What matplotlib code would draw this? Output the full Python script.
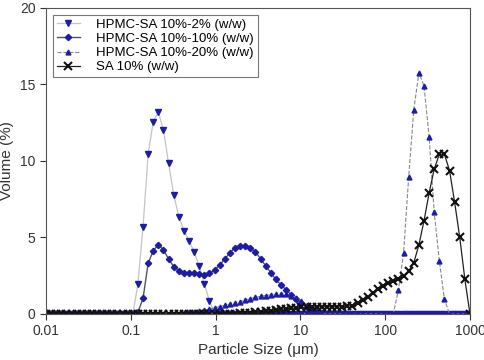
import matplotlib
matplotlib.use("Agg")
import matplotlib.pyplot as plt
import numpy as np

plt.rcParams['font.family'] = ['Liberation Sans', 'DejaVu Sans']

# particle size bins (um), 84 log-spaced classes from 0.01 to 1000
size = np.logspace(-2, 3, 84)

# volume (%) per bin
hpmc_2 = [0] * 18 + [1.96, 5.7, 10.46, 12.57, 13.2, 12.0, 9.85, 7.8, 6.36, 5.45,
                     4.77, 4.07, 3.1, 1.96, 0.85, 0.05] + [0] * 50

hpmc_10 = [0] * 18 + [0.1, 1.02, 3.3, 4.14, 4.53, 4.18, 3.59, 3.09, 2.83, 2.7,
                      2.7, 2.66, 2.61, 2.55, 2.66, 2.87, 3.2, 3.59, 4.0, 4.33,
                      4.46, 4.46, 4.3, 4.07, 3.6, 3.15, 2.7, 2.25, 1.9, 1.57,
                      1.25, 0.95, 0.7, 0.48, 0.3, 0.15, 0.05] + [0] * 29

hpmc_20 = [0] * 26 + [0.02, 0.05, 0.1, 0.15, 0.2, 0.25, 0.32, 0.4, 0.48, 0.56,
                      0.64, 0.72, 0.8, 0.9, 1.0, 1.08, 1.15, 1.2, 1.25, 1.28,
                      1.3, 1.28, 1.2, 1.05, 0.85, 0.6, 0.38, 0.18, 0.06] \
    + [0] * 14 + [1.57, 3.97, 8.93, 13.33, 15.77, 14.9, 11.59, 6.64, 3.49, 0.96] + [0] * 5

sa_10 = [0] * 38 + [0.03, 0.05, 0.08, 0.11, 0.15, 0.18, 0.22, 0.26, 0.3, 0.33,
                    0.36, 0.39, 0.42, 0.44, 0.45, 0.46, 0.47, 0.47, 0.47, 0.46,
                    0.46, 0.5, 0.55, 0.7, 0.88, 1.1, 1.35, 1.6, 1.85, 2.0,
                    2.12, 2.25, 2.45, 2.8, 3.35, 4.5, 6.08, 7.9, 9.46, 10.44,
                    10.44, 9.37, 7.3, 5.0, 2.27, 0.0]

blue = '#1c1ca8'

fig = plt.figure(figsize=(4.84, 3.6), dpi=100)
ax = fig.add_axes([0.095, 0.128, 0.876, 0.85])

ax.plot(size, hpmc_2, color='#c4c4c4', lw=0.9, marker='v', ms=4,
        mfc=blue, mec=blue, label='HPMC-SA 10%-2% (w/w)')
ax.plot(size, hpmc_10, color='#555555', lw=1.0, marker='D', ms=3.2,
        mfc=blue, mec=blue, label='HPMC-SA 10%-10% (w/w)')
ax.plot(size, hpmc_20, color='#888888', lw=0.8, ls='--', marker='^', ms=3.5,
        mfc=blue, mec=blue, label='HPMC-SA 10%-20% (w/w)')
ax.plot(size, sa_10, color='#222222', lw=0.9, marker='x', ms=5.5, mew=1.5,
        mec='#111111', label='SA 10% (w/w)')

ax.set_xscale('log')
ax.set_xlim(0.01, 1000)
ax.set_ylim(0, 20)
ax.set_xticks([0.01, 0.1, 1, 10, 100, 1000])
ax.set_xticklabels(['0.01', '0.1', '1', '10', '100', '1000'])
ax.xaxis.set_minor_locator(matplotlib.ticker.NullLocator())
ax.set_yticks([0, 5, 10, 15, 20])
ax.tick_params(direction='out', length=4, labelsize=10, colors='#333333')
for s in ax.spines.values():
    s.set_color('#555555')

ax.set_xlabel('Particle Size (μm)', fontsize=11, color='#333333', labelpad=3)
ax.set_ylabel('Volume (%)', fontsize=11, color='#333333', labelpad=4)

leg = ax.legend(loc='upper left', fontsize=9.5, frameon=True, fancybox=False,
                edgecolor='#555555', borderaxespad=0.5, handlelength=1.8,
                labelspacing=0.15, borderpad=0.3, handletextpad=1.2)
leg.get_frame().set_linewidth(0.8)

fig.savefig('out.png', dpi=100)
